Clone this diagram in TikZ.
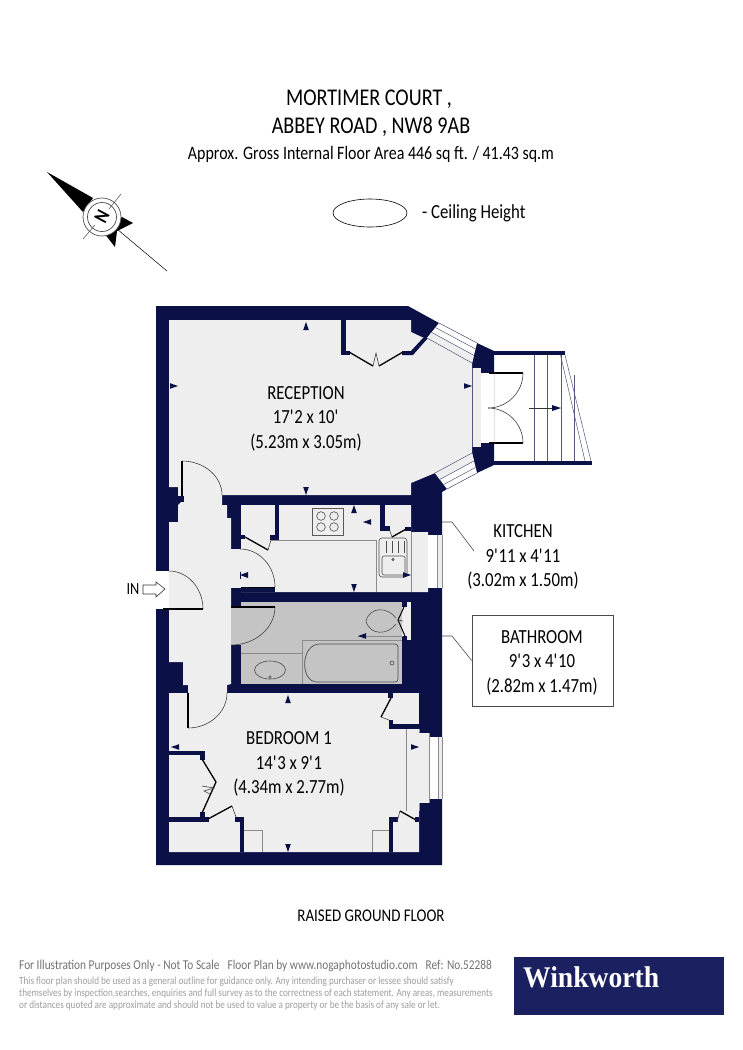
\documentclass[tikz,border=0pt]{standalone}
\usepackage{fontspec}
\setmainfont[FakeStretch=0.84]{Carlito}
\newfontfamily\logofont[FakeStretch=0.92]{Liberation Serif}
\usetikzlibrary{calc}
\definecolor{navy}{HTML}{0B1046}
\definecolor{roomgrey}{HTML}{EEEEEE}
\definecolor{bathgrey}{HTML}{C4C4C4}
\definecolor{linegrey}{HTML}{8A8A8F}
\definecolor{logoblue}{HTML}{1B2060}
\newcommand\ft{\textquotesingle}
\newcommand\qarc[3]{(#1) .. controls ($(#1)!.55!(#2)$) and ($(#3)!.55!(#2)$) .. (#3)}
\newcommand\tickU[2]{\fill[navy] (#1-2.8,#2+8) -- (#1,#2) -- (#1+2.8,#2+8) -- cycle;}
\newcommand\tickD[2]{\fill[navy] (#1-2.8,#2-8) -- (#1,#2) -- (#1+2.8,#2-8) -- cycle;}
\newcommand\tickR[2]{\fill[navy] (#1-8,#2-2.8) -- (#1,#2) -- (#1-8,#2+2.8) -- cycle;}
\newcommand\tickL[2]{\fill[navy] (#1+8,#2-2.8) -- (#1,#2) -- (#1+8,#2+2.8) -- cycle;}
\tikzset{
  x=1pt,y=-1pt,
  wall/.style={fill=navy,draw=none},
  leaf/.style={draw=black,line width=1.3pt,line cap=butt},
  swing/.style={draw=black!75,line width=0.6pt},
  fitline/.style={draw=linegrey,line width=0.9pt},
  sanitary/.style={draw=black!70,line width=0.6pt},
  winline/.style={draw=navy!70,line width=0.5pt},
  label/.style={align=center,inner sep=0pt,text=black},
  roomtext/.style={label,font=\fontsize{20}{24.5}\selectfont},
  fine/.style={anchor=west,inner sep=0pt,text=black!38,font=\fontsize{10.9}{12}\selectfont}
}
\begin{document}
\begin{tikzpicture}
\useasboundingbox (0,0) rectangle (742,1050);
\fill[white] (0,0) rectangle (742,1050);

% ---------- heading
\node[label,font=\fontsize{24}{26}\selectfont] (t1) at (369,99.5) {MORTIMER COURT ,};
\node[label,font=\fontsize{24}{26}\selectfont] (t2) at (371,126.5) {ABBEY ROAD , NW8 9AB};
\node[label,font=\fontsize{19}{22}\selectfont] (t3) at (371,154) {Approx. Gross Internal Floor Area 446 sq ft. / 41.43 sq.m};
\draw[black,line width=0.6pt] (370,213) ellipse [x radius=37,y radius=14];
\node[label,anchor=west,font=\fontsize{20}{22}\selectfont] (t4) at (422,213.5) {- Ceiling Height};

% ---------- compass
\fill[black] (47,172) -- (93,198) -- (83,212) -- cycle;
\fill[black] (122,217) -- (133,223) -- (117,231) -- (115,247) -- (104,233) -- cycle;
\draw[black,line width=0.5pt] (117,229) -- (167,271);
\fill[white] (102,217) circle [radius=19];
\draw[black!70,line width=0.7pt] (102,217) circle [radius=19];
\draw[black!70,line width=0.7pt] (102,217) circle [radius=14.5];
\draw[black!70,line width=0.5pt] (83,239) -- (95,225) (109,209) -- (121,194);
\node[inner sep=0pt,rotate=62,font=\bfseries\fontsize{20}{22}\selectfont] (north) at (102,217) {N};

% ---------- building mass
\fill[navy] (156,306) -- (408,306) -- (439,323) -- (477,343) -- (494,351) -- (494,465)
  -- (477,473) -- (447,489) -- (442,492) -- (442,865) -- (156,865) -- cycle;

% ---------- open plan light floor: reception, hall, bedroom
\fill[roomgrey] (169,320) -- (411,320) -- (411,332) -- (424,338) -- (427,338) -- (472,363)
  -- (472,453) -- (435,473) -- (411,483) -- (411,495) -- (222,495) -- (222,505) -- (227,505)
  -- (227,518) -- (231,518) -- (231,684) -- (227,685) -- (227,693) -- (419,693) -- (419,852)
  -- (169,852) -- (169,693) -- (188,693) -- (188,685) -- (183,685) -- (183,662) -- (169,662)
  -- (169,522) -- (178,522) -- (178,505) -- (183,500) -- (183,496) -- (178,496) -- (178,487)
  -- (169,487) -- cycle;

% ---------- reception cupboard
\fill[wall] (341,320) rectangle (346,351);
\fill[wall] (341,351) rectangle (350,355);
\fill[wall] (423,338) -- (428,338) -- (413,355) -- (402,355) -- (402,351) -- (411,351) -- cycle;
\draw[leaf] (349,352) -- (373,366);
\draw[leaf] (403,352) -- (379,366);
\draw[swing] (373,366) -- (376,353) -- (379,366);

% ---------- upper and lower bay windows
\coordinate (ua) at (439,323); \coordinate (ub) at (477,343);
\coordinate (uc) at (472,363); \coordinate (ud) at (427,338);
\fill[white] (ua) -- (ub) -- (uc) -- (ud) -- cycle;
\fill[roomgrey] ($(ua)!.62!(ud)$) -- ($(ub)!.62!(uc)$) -- (uc) -- (ud) -- cycle;
\draw[winline] (ua) -- (ub) ($(ua)!.3!(ud)$) -- ($(ub)!.3!(uc)$) ($(ua)!.62!(ud)$) -- ($(ub)!.62!(uc)$) (ud) -- (uc);
\coordinate (la) at (472,453); \coordinate (lb) at (435,473);
\coordinate (lc) at (447,489); \coordinate (ld) at (477,473);
\fill[white] (la) -- (lb) -- (lc) -- (ld) -- cycle;
\fill[roomgrey] (la) -- (lb) -- ($(lb)!.4!(lc)$) -- ($(la)!.4!(ld)$) -- cycle;
\draw[winline] (la) -- (lb) ($(la)!.4!(ld)$) -- ($(lb)!.4!(lc)$) ($(la)!.72!(ld)$) -- ($(lb)!.72!(lc)$) (ld) -- (lc);

% ---------- entrance to terrace and stair
\fill[roomgrey] (472,368) rectangle (481,447);
\fill[white] (481,373) rectangle (494,443);
\draw[winline] (472,368) -- (472,447);
\draw[leaf] (489,373) -- (523,373);
\draw[leaf] (489,443) -- (523,443);
\draw[swing] \qarc{523,373}{523,408}{488,408};
\draw[swing] \qarc{523,443}{523,408}{488,408};
\fill[navy] (494,351) rectangle (565,355);
\fill[navy] (494,461) rectangle (592,465);
\draw[winline] (534,355) -- (534,461) (547,355) -- (547,461) (561,355) -- (561,461) (574,375) -- (574,461);
\draw[winline] (560.5,355) -- (585,461) (565,355) -- (591,461);
\draw[black!80,line width=0.5pt] (529,408) -- (552,408);
\fill[navy] (552,405) -- (561,408) -- (552,411) -- cycle;

% ---------- kitchen
\fill[roomgrey] (241,505) -- (411,505) -- (411,532) -- (428,532) -- (428,592) -- (241,592) -- cycle;
\fill[roomgrey] (231,549) rectangle (241,588);
\fill[wall] (241,588) rectangle (275,592);
\fill[wall] (275,505) rectangle (279,536);
\fill[wall] (270,535) rectangle (279,540);
\fill[wall] (241,535) rectangle (245,539);
\draw[leaf] (245,537) -- (268,550);
\draw[swing] (268,550) -- (271,540);
\draw[fitline] (271,540) -- (376,540) -- (376,592);
\fill[wall] (380,505) rectangle (385,531);
\fill[wall] (380,526) rectangle (390,531);
\fill[wall] (405,527) rectangle (411,531);
\draw[leaf] (392,537) -- (408,528);
\draw[swing] (390,531) -- (392,537);
\draw[fitline] (411,532) -- (411,592);
\fill[white] (428,535) rectangle (437,588);
\fill[roomgrey] (437,535) rectangle (442,588);
\draw[fitline,line width=0.6pt] (437,535) -- (437,588) (442,535) -- (442,588);
% hob
\draw[fitline,draw=black!65,line width=0.6pt] (312,508) rectangle (343,535);
\foreach \hx/\hy in {321/516,334/516,321/527,334/527}{\draw[sanitary] (\hx,\hy) circle [radius=4.3];}
% sink
\draw[sanitary,rounded corners=3pt] (379,538) rectangle (407,577);
\draw[sanitary,rounded corners=2pt] (382,556) rectangle (405,575);
\draw[sanitary] (386,541) -- (386,553) (392,541) -- (392,553) (398,541) -- (398,553) (404,541) -- (404,553);
\draw[sanitary] (393,559.5) circle [radius=1.1];
% kitchen door
\draw[swing] \qarc{275,587}{275,549}{240,549};
\draw[leaf,line width=0.8pt] (241,587.5) -- (275,587.5);

% ---------- bathroom
\fill[bathgrey] (241,602) rectangle (402,684);
\fill[bathgrey] (231,606) rectangle (241,645);
\fill[roomgrey] (402,607) rectangle (411,636);
\fill[roomgrey] (407,602) rectangle (411,640);
\fill[wall] (402,602) rectangle (407,607);
\fill[wall] (402,636) rectangle (407,640);
\draw[leaf] (231,607) -- (275,607);
\draw[swing] \qarc{275,607}{275,645}{231,645};
\draw[fitline] (241,653) -- (302,653);
\draw[fitline] (302,684) -- (302,640) -- (402,640);
\draw[sanitary,rounded corners=3pt,line width=0.7pt] (320,644) -- (398,644) -- (398,682) -- (320,682) [rounded corners=0pt] .. controls (300,682) and (300,644) .. (320,644);
\draw[sanitary] (392,663) circle [radius=2];
\draw[sanitary] (270,670) ellipse [x radius=15.5,y radius=9];
\draw[sanitary] (270,677) circle [radius=1.3];
\draw[sanitary] (396,618) .. controls (388,607) and (370,606) .. (366,621) .. controls (370,636) and (388,635) .. (396,624);
\draw[leaf,line width=1pt] (404,607) -- (398,620) -- (405,636);
\draw[swing] (398,620) -- (403,621);
\draw[fitline,line width=0.7pt] (358,636) -- (403,636);

% ---------- hall doors
\draw[leaf] (182,461) -- (182,500);
\draw[swing] \qarc{182,461}{222,461}{222,495};
\fill[navy] (178,496) rectangle (184,502);
\draw[leaf] (188,693) -- (188,728);
\draw[swing] \qarc{188,728}{227,728}{227,693};
% entrance
\fill[white] (156,571) rectangle (169,609);
\draw[leaf] (163,609) -- (203,609);
\draw[swing] \qarc{203,609}{203,571}{169,571};

% ---------- bedroom cupboards
\fill[wall] (169,751) rectangle (205,755);
\fill[wall] (200,751) rectangle (205,760);
\fill[wall] (169,817) rectangle (209,822);
\fill[wall] (200,812) rectangle (205,817);
\draw[leaf] (202,759) -- (216,782) -- (202,813);
\draw[swing] (202,786) -- (214,788) -- (204,791) -- (210,794);
\draw[leaf] (208,819) -- (232,806);
\draw[swing] (232,806) -- (236,817);
\fill[wall] (235,817) rectangle (244,822);
\fill[wall] (240,817) rectangle (244,852);
\draw[fitline,line width=0.7pt] (244,830) -- (262,830) -- (262,852);
% right-hand side
\fill[wall] (388,693) rectangle (393,698);
\draw[leaf] (391,698) -- (381,717);
\draw[swing] (381,717) -- (389,720);
\fill[wall] (389,720) rectangle (393,729);
\fill[wall] (389,724) rectangle (419,729);
\fill[navy] (419,693) rectangle (442,733);
% window recess and window
\fill[roomgrey] (406,729) rectangle (419,817);
\draw[fitline,line width=0.7pt] (406,729) -- (406,811);
\draw[fitline,line width=0.7pt] (419,729) -- (419,811);
\fill[roomgrey] (419,733) rectangle (429,803);
\fill[white] (429,737) rectangle (438,799);
\fill[roomgrey] (438,737) rectangle (442,799);
\draw[fitline,line width=0.6pt] (429,733) -- (429,803) (438,737) -- (438,799) (442,737) -- (442,799);
\fill[wall] (389,817) rectangle (398,822);
\fill[wall] (389,817) rectangle (393,852);
\fill[wall] (415,817) rectangle (419,822);
\draw[leaf] (400,811) -- (416,820);
\draw[swing] (400,811) -- (397,822);
\draw[fitline,line width=0.7pt] (389,830) -- (372,830) -- (372,852);

% ---------- height ticks
\tickU{306}{322} \tickR{178}{386}\tickD{306}{495}\tickR{472}{386}
\tickU{354}{505} \tickL{363}{522} \tickD{354}{592} \tickR{411}{575}
\tickU{288}{695} \tickL{171}{747} \tickD{288}{852} \tickR{419}{747}
\tickL{358}{636}
\fill[navy] (248,572) -- (240,575) -- (248,578) -- cycle;
\draw[navy,line width=0.8pt] (240,571.5) -- (240,578.5);

% ---------- room labels
\node[roomtext] (reception) at (306,418.5) {RECEPTION\\17\ft2 x 10\ft\\(5.23m x 3.05m)};
\node[roomtext] (bedroom) at (289,764) {BEDROOM 1\\14\ft3 x 9\ft1\\(4.34m x 2.77m)};
\node[roomtext] (kitchen) at (523,557) {KITCHEN\\9\ft11 x 4\ft11\\(3.02m x 1.50m)};
\node[draw=black!70,line width=0.6pt,minimum width=141pt,minimum height=91pt,inner sep=0pt] (bathbox) at (542.5,660.5) {};
\node[roomtext] (bathroom) at (542,662.5) {BATHROOM\\9\ft3 x 4\ft10\\(2.82m x 1.47m)};
\coordinate (kwall) at (442,522);
\coordinate (kbend) at (452,522);
\coordinate (kend) at (474,551);
\coordinate (bwall) at (442,636);
\coordinate (bbend) at (452,636);
\draw[black!70,line width=0.6pt] (kwall) -- (kbend) -- (kend);
\draw[black!70,line width=0.6pt] (bwall) -- (bbend) -- (bathbox.west);
\node[label,font=\fontsize{17}{20}\selectfont] (in) at (133,589.5) {IN};
\draw[black!80,line width=0.6pt] (143,585) -- (156,585) -- (156,582) -- (165,589) -- (156,597) -- (156,594) -- (143,594) -- cycle;

\node[label,font=\fontsize{17.8}{20}\selectfont] (floor) at (371,915.5) {RAISED GROUND FLOOR};

% ---------- footer
\node[anchor=west,inner sep=0pt,text=black!55,font=\fontsize{13.5}{15}\selectfont] (f1) at (19,966) {For Illustration Purposes Only - Not To Scale\hspace{8pt}Floor Plan by www.nogaphotostudio.com\hspace{8pt}Ref: No.52288};
\node[fine] (f2) at (19,982) {This floor plan should be used as a general outline for guidance only. Any intending purchaser or lessee should satisfy};
\node[fine] (f3) at (19,994) {themselves by inspection,searches, enquiries and full survey as to the correctness of each statement. Any areas, measurements};
\node[fine] (f4) at (19,1006) {or distances quoted are approximate and should not be used to value a property or be the basis of any sale or let.};
\fill[logoblue] (514,957) rectangle (724,1015);
\node[anchor=base west,inner sep=0pt,text=white,font=\logofont\bfseries\fontsize{30}{33}\selectfont] (logo) at (523,987) {Winkworth};
\end{tikzpicture}
\end{document}
